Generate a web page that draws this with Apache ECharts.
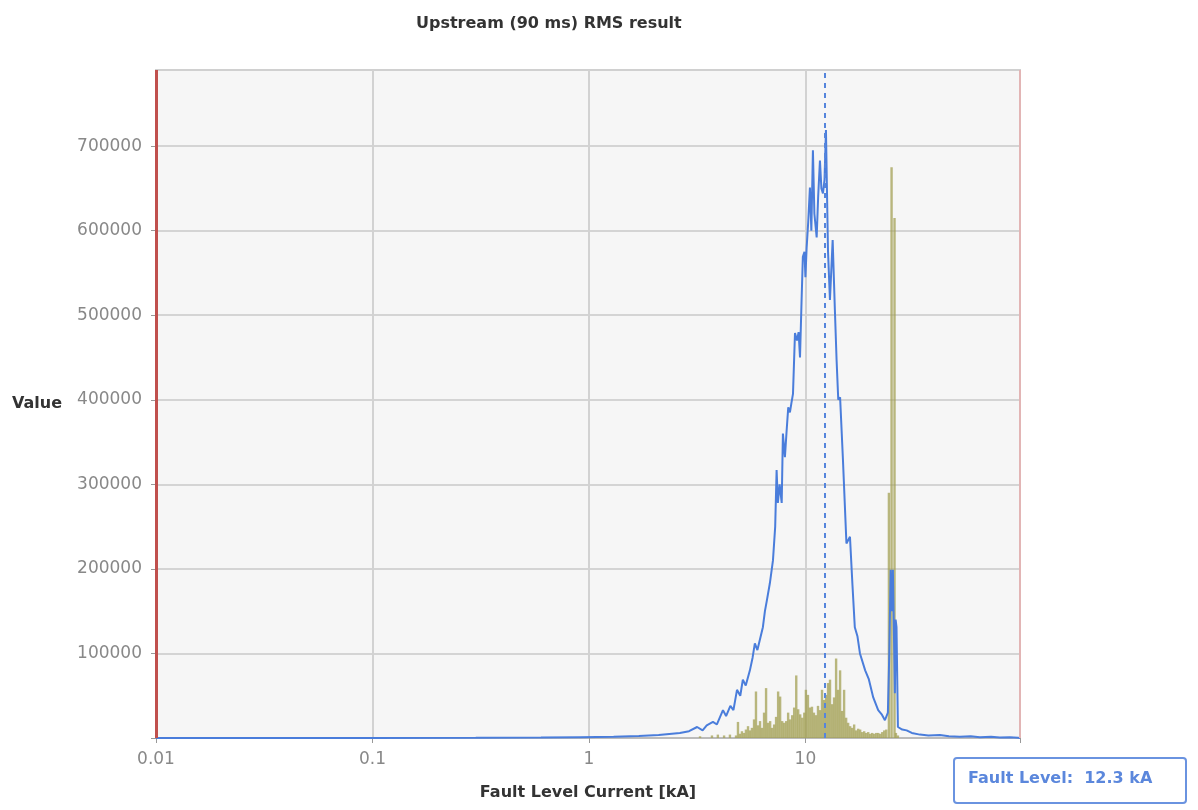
<!DOCTYPE html>
<html lang="en">
<head>
    <meta charset="UTF-8">
    <title>Upstream RMS result</title>
    <script src="https://cdn.jsdelivr.net/npm/echarts@6/dist/echarts.min.js"></script>
    <style>
        body { margin: 0; background: #fff; }
        #myChart { width: 1198px; height: 810px; }
    </style>
</head>
<body>
<div id="myChart"></div>
<script type="text/javascript">
    // fault current [kA] / value pairs for the RMS distribution (blue line)
    var rmsCurrent = [0.01, 0.03, 0.1, 0.3, 0.6, 0.91, 1.3, 1.7, 2.1, 2.63, 2.9, 3.16, 3.35, 3.5, 3.74, 3.9,
        4.16, 4.3, 4.5, 4.65, 4.83, 5.0, 5.14, 5.3, 5.54, 5.7, 5.84, 6.0, 6.36, 6.5, 6.64, 6.85, 7.08, 7.25,
        7.36, 7.46, 7.6, 7.77, 7.87, 8.04, 8.19, 8.33, 8.48, 8.64, 8.76, 8.95, 9.14, 9.3, 9.44, 9.6, 9.73,
        9.9, 10.0, 10.13, 10.3, 10.49, 10.65, 10.83, 11.0, 11.27, 11.45, 11.67, 11.85, 12.05, 12.25, 12.44,
        12.71, 12.98, 13.36, 13.68, 13.93, 14.18, 14.46, 14.9, 15.47, 16.06, 16.5, 16.91, 17.4, 17.86, 18.88,
        19.6, 20.57, 21.68, 22.5, 23.29, 24.04, 24.4, 24.76, 25.1, 25.35, 25.9, 26.1, 26.35, 26.75, 28,
        29.34, 31, 33.8, 37, 41.8, 46, 51.7, 58, 64, 72, 79.1, 88, 95.9, 98];
    var rmsValue = [0, 0, 0, 200, 500, 1000, 1500, 2500, 3500, 6000, 8000, 13000, 9000, 15000, 19000, 16000,
        33000, 26000, 38000, 33000, 57000, 50000, 69000, 62000, 80000, 95000, 112000, 104000, 131000, 150000,
        163000, 183000, 210000, 250000, 317000, 278000, 300000, 278000, 360000, 332000, 364000, 391000,
        385000, 398000, 407000, 479000, 470000, 480000, 450000, 518000, 569000, 575000, 545000, 580000,
        610000, 651000, 600000, 695000, 620000, 592000, 640000, 683000, 650000, 644000, 660000, 719000,
        577000, 518000, 589000, 506000, 447000, 400000, 403000, 330000, 230000, 238000, 180000, 131000,
        120000, 100000, 80000, 70000, 48000, 33000, 28000, 21000, 30000, 100000, 199000, 150000, 199000,
        53000, 140000, 131000, 13000, 10000, 9000, 6000, 4000, 3000, 3500, 2000, 1500, 2000, 1000, 1500,
        500, 800, 300, 0];

    // second distribution drawn as thin bars (olive)
    var barCurrent = [3.26, 3.7, 3.94, 4.21, 4.48, 4.78, 4.88, 4.98, 5.09, 5.2, 5.31, 5.43, 5.54, 5.66, 5.79,
        5.91, 6.04, 6.17, 6.3, 6.44, 6.58, 6.72, 6.87, 7.01, 7.17, 7.32, 7.48, 7.64, 7.81, 7.97, 8.15, 8.32,
        8.5, 8.69, 8.87, 9.07, 9.26, 9.46, 9.67, 9.88, 10.05, 10.27, 10.49, 10.72, 10.95, 11.19, 11.43,
        11.68, 11.93, 12.19, 12.45, 12.72, 12.99, 13.28, 13.56, 13.86, 14.16, 14.46, 14.77, 15.09, 15.42,
        15.75, 16.09, 16.44, 16.79, 17.15, 17.52, 17.9, 18.29, 18.68, 19.08, 19.5, 19.92, 20.35, 20.79,
        21.24, 21.69, 22.16, 22.64, 23.13, 23.63, 24.3, 25.0, 25.8, 26.19, 26.75];
    var barValue = [2000, 3000, 4000, 3000, 4000, 3000, 19000, 5000, 8000, 6000, 10000, 14000, 9000, 12000,
        22000, 55000, 15000, 20000, 12000, 30000, 59000, 18000, 20000, 12000, 16000, 25000, 55000, 49000,
        20000, 18000, 20000, 30000, 22000, 27000, 36000, 74000, 34000, 28000, 24000, 30000, 57000, 51000,
        36000, 37000, 30000, 27000, 38000, 33000, 57000, 45000, 51000, 65000, 69000, 40000, 48000, 94000,
        57000, 80000, 32000, 57000, 24000, 18000, 14000, 12000, 16000, 9000, 11000, 10000, 7000, 8000,
        6000, 7000, 5000, 6000, 5000, 6000, 6000, 5000, 7000, 9000, 10000, 290000, 675000, 615000, 6000,
        3000];

    var faultLevel = 12.3;
    var xTicks = [0.01, 0.1, 1, 10];
    var yTicks = [0, 100000, 200000, 300000, 400000, 500000, 600000, 700000];
    var xMin = 0.01, xMax = 98;

    var rmsData = rmsCurrent.map(function (x, i) { return [x, rmsValue[i]]; });
    var barData = barCurrent.map(function (x, i) { return [x, barValue[i]]; });

    var myChart = echarts.init(document.getElementById('myChart'));
    var labelFont = '"DejaVu Sans", Verdana, sans-serif';

    myChart.setOption({
        animation: false,
        title: {
            text: 'Upstream (90 ms) RMS result',
            left: 411,
            top: 11,
            textStyle: { fontFamily: labelFont, fontSize: 16, fontWeight: 'bold', color: '#333' }
        },
        grid: {
            left: 156, right: 178, top: 70, bottom: 72,
            show: true,
            backgroundColor: '#f6f6f6',
            borderColor: '#d0d0d0',
            borderWidth: 2
        },
        xAxis: {
            type: 'log',
            logBase: 10,
            min: xMin,
            max: xMax,
            name: 'Fault Level Current [kA]',
            nameLocation: 'middle',
            nameGap: 47,
            nameTextStyle: { fontFamily: labelFont, fontSize: 16, fontWeight: 'bold', color: '#333' },
            axisLine: { lineStyle: { color: '#bbb', width: 2 } },
            axisTick: { show: true, length: 5, lineStyle: { color: '#999' } },
            axisLabel: {
                margin: 13,
                fontFamily: labelFont, fontSize: 17, color: '#888',
                formatter: function (v) { return xTicks.indexOf(+v) >= 0 ? String(+v) : ''; }
            },
            splitLine: { show: true, lineStyle: { color: '#d2d2d2', width: 2 } },
            minorSplitLine: { show: false }
        },
        yAxis: {
            type: 'value',
            min: 0,
            max: 790000,
            interval: 100000,
            name: 'Value',
            nameLocation: 'middle',
            nameRotate: 0,
            nameGap: 94,
            nameTextStyle: { fontFamily: labelFont, fontSize: 16, fontWeight: 'bold', color: '#333' },
            axisLine: { show: false },
            axisTick: { show: true, length: 5, customValues: yTicks, lineStyle: { color: '#999' } },
            axisLabel: {
                margin: 14,
                customValues: yTicks.slice(1),
                fontFamily: labelFont, fontSize: 17, color: '#888',
                formatter: function (v) { return String(v); }
            },
            splitLine: { show: true, lineStyle: { color: '#d4d4d4', width: 2 } }
        },
        series: [
            {
                name: 'limits',
                type: 'line',
                data: [],
                silent: true,
                markLine: {
                    symbol: 'none',
                    silent: true,
                    label: { show: false },
                    data: [
                        { xAxis: xMin, lineStyle: { color: '#c0504d', width: 3, type: 'solid' } },
                        { xAxis: xMax, lineStyle: { color: '#e2b5b5', width: 2, type: 'solid' } }
                    ]
                }
            },
            {
                name: 'peak',
                type: 'custom',
                z: 2,
                data: barData,
                renderItem: function (params, api) {
                    var top = api.coord([api.value(0), api.value(1)]);
                    var base = api.coord([api.value(0), 0]);
                    return {
                        type: 'rect',
                        shape: { x: top[0] - 1.2, y: top[1], width: 2.4, height: base[1] - top[1] },
                        style: { fill: 'rgba(163,160,84,0.75)' }
                    };
                }
            },
            {
                name: 'RMS',
                type: 'line',
                z: 3,
                data: rmsData,
                showSymbol: false,
                lineStyle: { color: '#4a7ddb', width: 2 },
                itemStyle: { color: '#4a7ddb' },
                markLine: {
                    symbol: 'none',
                    silent: true,
                    label: { show: false },
                    lineStyle: { color: '#5585dc', width: 2, type: [5, 5] },
                    data: [{ xAxis: faultLevel }]
                }
            }
        ],
        graphic: [
            {
                type: 'group',
                left: 953,
                top: 757,
                children: [
                    {
                        type: 'rect',
                        shape: { x: 0, y: 0, width: 232, height: 45, r: 3 },
                        style: { fill: '#fff', stroke: '#6a93e0', lineWidth: 2 }
                    },
                    {
                        type: 'text',
                        x: 14,
                        y: 13,
                        style: {
                            text: 'Fault Level:  ' + faultLevel + ' kA',
                            font: 'bold 16px ' + labelFont,
                            fill: '#5b87dc'
                        }
                    }
                ]
            }
        ]
    });
</script>
</body>
</html>
